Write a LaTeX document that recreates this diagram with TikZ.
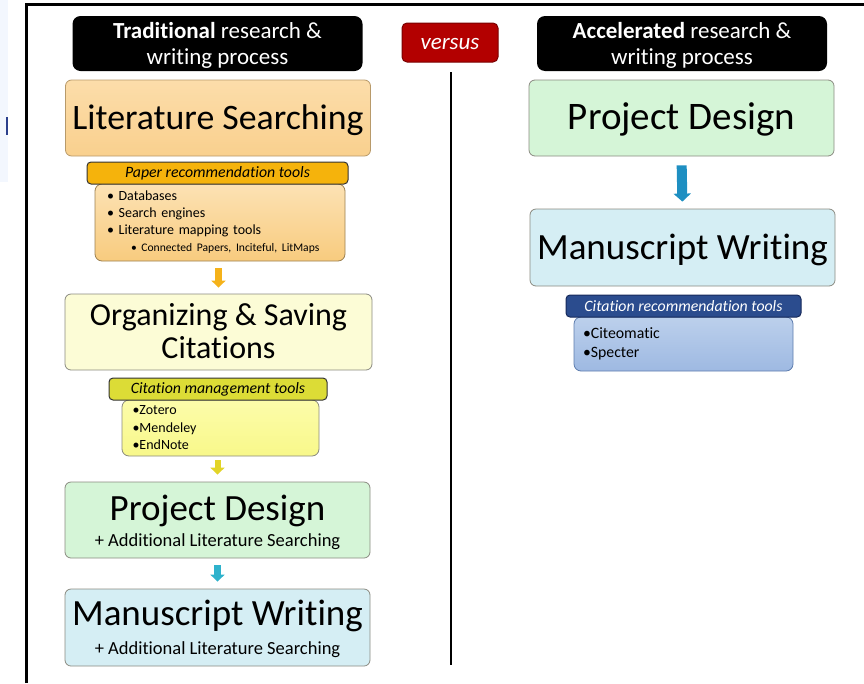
\documentclass[tikz,border=0pt]{standalone}
\usepackage{fontspec}
\setmainfont{Carlito}[Ligatures=NoCommon]
\usetikzlibrary{arrows.meta}
\definecolor{stripbg}{HTML}{F3F7FE}
\definecolor{tickblue}{HTML}{2B3F8C}
\definecolor{vred}{HTML}{B30000}
\definecolor{vredd}{HTML}{7A0000}
\definecolor{litA}{HTML}{FCDDAA}
\definecolor{litB}{HTML}{F9D08E}
\definecolor{litD}{HTML}{B89A6A}
\definecolor{goldban}{HTML}{F5B30C}
\definecolor{plA}{HTML}{FCE2B4}
\definecolor{plB}{HTML}{F8CB7E}
\definecolor{plD}{HTML}{9C8050}
\definecolor{arrOr}{HTML}{F5B21A}
\definecolor{orgF}{HTML}{FCFCD6}
\definecolor{grayD}{HTML}{8A8A80}
\definecolor{cmban}{HTML}{DCDC36}
\definecolor{clA}{HTML}{FCFCAA}
\definecolor{clB}{HTML}{F8F88A}
\definecolor{arrYe}{HTML}{E2D428}
\definecolor{prjF}{HTML}{D5F5D7}
\definecolor{arrTe}{HTML}{2EB2CC}
\definecolor{manF}{HTML}{D5EEF4}
\definecolor{arrBl}{HTML}{1E8FC2}
\definecolor{rbban}{HTML}{2B4C8E}
\definecolor{rbbanD}{HTML}{16295A}
\definecolor{rlA}{HTML}{BCD0EC}
\definecolor{rlB}{HTML}{9EB9E2}
\definecolor{rlD}{HTML}{5E7DAE}
\tikzset{
  header/.style={fill=black, rounded corners=8pt, text=white, align=center,
    inner sep=0pt, font=\fontsize{23}{26.5}\selectfont, text height=42pt, text depth=0pt},
  bigbox/.style={draw=grayD, line width=0.8pt, rounded corners=6pt, align=center, inner sep=0pt},
  baseoff/.style={text height=#1, text depth=0pt},
  banner/.style={draw=#1, line width=1pt, rounded corners=4pt, inner sep=0pt,
    font=\itshape\fontsize{15.8}{18}\selectfont},
  listbox/.style={rounded corners=7pt, line width=0.8pt, align=left, inner ysep=0pt},
  blockarrow/.style={line width=7pt, -{Triangle[width=14pt,length=7pt]}}
}
\begin{document}
\begin{tikzpicture}[x=1pt,y=-1pt]
\useasboundingbox (0,0) rectangle (864,683);
\fill[stripbg] (0,0) rectangle (8,182);
\fill[tickblue] (6,117) rectangle (8,135);
\draw[line width=3pt] (26,683) -- (26,4.5) -- (864,4.5);

% headers
\node[header, minimum width=290pt, minimum height=55pt] (hl) at (217.5,43.5)
  {\textbf{Traditional} research \&\\writing process};
\node[header, minimum width=290pt, minimum height=55pt] (hr) at (682,43.5)
  {\textbf{Accelerated} research \&\\writing process};
\node[fill=vred, draw=vredd, line width=1pt, rounded corners=5pt, text=white,
  minimum width=96pt, minimum height=39pt, inner sep=0pt, baseoff=14pt,
  font=\itshape\fontsize{23}{26}\selectfont] (vs) at (450,42.5) {versus};
\coordinate (divtop) at (450.5,72);
\coordinate (divbot) at (450.5,665);
\draw[line width=2pt] (divtop) -- (divbot);

% left column
\node[bigbox, draw=litD, top color=litA, bottom color=litB, minimum width=305pt, minimum height=76pt,
  baseoff=22.6pt, font=\fontsize{35.8}{40}\selectfont] (lit) at (218,118) {Literature Searching};
\node[listbox, draw=plD, top color=plA, bottom color=plB, minimum width=250pt, minimum height=77pt,
  text width=226pt, inner xsep=12pt, font=\fontsize{14}{17}\selectfont] (plist) at (220,222.5)
  {• Databases\\• Search engines\\• Literature mapping tools\\
   \hspace*{24pt}{\fontsize{11.6}{17}\selectfont • Connected Papers, Inciteful, LitMaps}};
\node[banner=black!80, fill=goldban, minimum width=261pt, minimum height=22pt] (pban) at (217.5,173)
  {Paper recommendation tools};

\node[bigbox, fill=orgF, minimum width=307pt, minimum height=76pt, baseoff=53pt,
  font=\fontsize{32}{33}\selectfont] (org) at (218.5,332) {Organizing \& Saving\\Citations};
\node[listbox, draw=grayD, top color=clA, bottom color=clB, minimum width=197pt, minimum height=56pt,
  text width=176pt, inner xsep=10.5pt, font=\fontsize{14}{17.5}\selectfont] (clist) at (220.5,428)
  {•Zotero\\•Mendeley\\•EndNote};
\node[banner=black!80, fill=cmban, minimum width=218pt, minimum height=22pt] (cban) at (218,389)
  {Citation management tools};

\node[bigbox, fill=prjF, minimum width=305pt, minimum height=76pt, baseoff=53pt,
  font=\fontsize{18.5}{26}\selectfont] (prj) at (217.5,520)
  {{\fontsize{37}{26}\selectfont Project Design}\\+ Additional Literature Searching};
\node[bigbox, fill=manF, minimum width=305pt, minimum height=77pt, baseoff=53pt,
  font=\fontsize{18.5}{28.5}\selectfont] (man) at (217.5,627.5)
  {{\fontsize{37}{28.5}\selectfont Manuscript Writing}\\+ Additional Literature Searching};

% right column
\node[bigbox, fill=prjF, minimum width=305pt, minimum height=76pt, baseoff=23pt,
  font=\fontsize{39}{44}\selectfont] (prjR) at (681.5,118) {Project Design};
\node[bigbox, fill=manF, minimum width=305pt, minimum height=77pt, baseoff=23pt,
  font=\fontsize{37}{42}\selectfont] (manR) at (682.5,247.5) {Manuscript Writing};
\node[listbox, draw=rlD, top color=rlA, bottom color=rlB, minimum width=219pt, minimum height=54pt,
  text width=201pt, inner xsep=9pt, font=\fontsize{15.8}{18.6}\selectfont] (rlist) at (683.5,344)
  {•Citeomatic\\•Specter};
\node[banner=rbbanD, fill=rbban, text=white, minimum width=235pt, minimum height=22pt] (rban) at (683.5,306)
  {Citation recommendation tools};

% arrows
\draw[blockarrow, arrOr, shorten <=7pt, shorten >=6pt] (plist.south -| org.north) -- (org.north);
\draw[blockarrow, arrYe, line width=6pt, shorten <=4pt, shorten >=7pt] (clist.south -| prj.north) -- (prj.north);
\draw[blockarrow, arrTe, shorten <=7pt, shorten >=7pt] (prj.south) -- (man.north);
\draw[arrBl, line width=10pt, -{Triangle[width=17pt,length=8pt]}, shorten <=9pt, shorten >=7pt]
  (prjR.south) -- (manR.north);
\end{tikzpicture}
\end{document}
